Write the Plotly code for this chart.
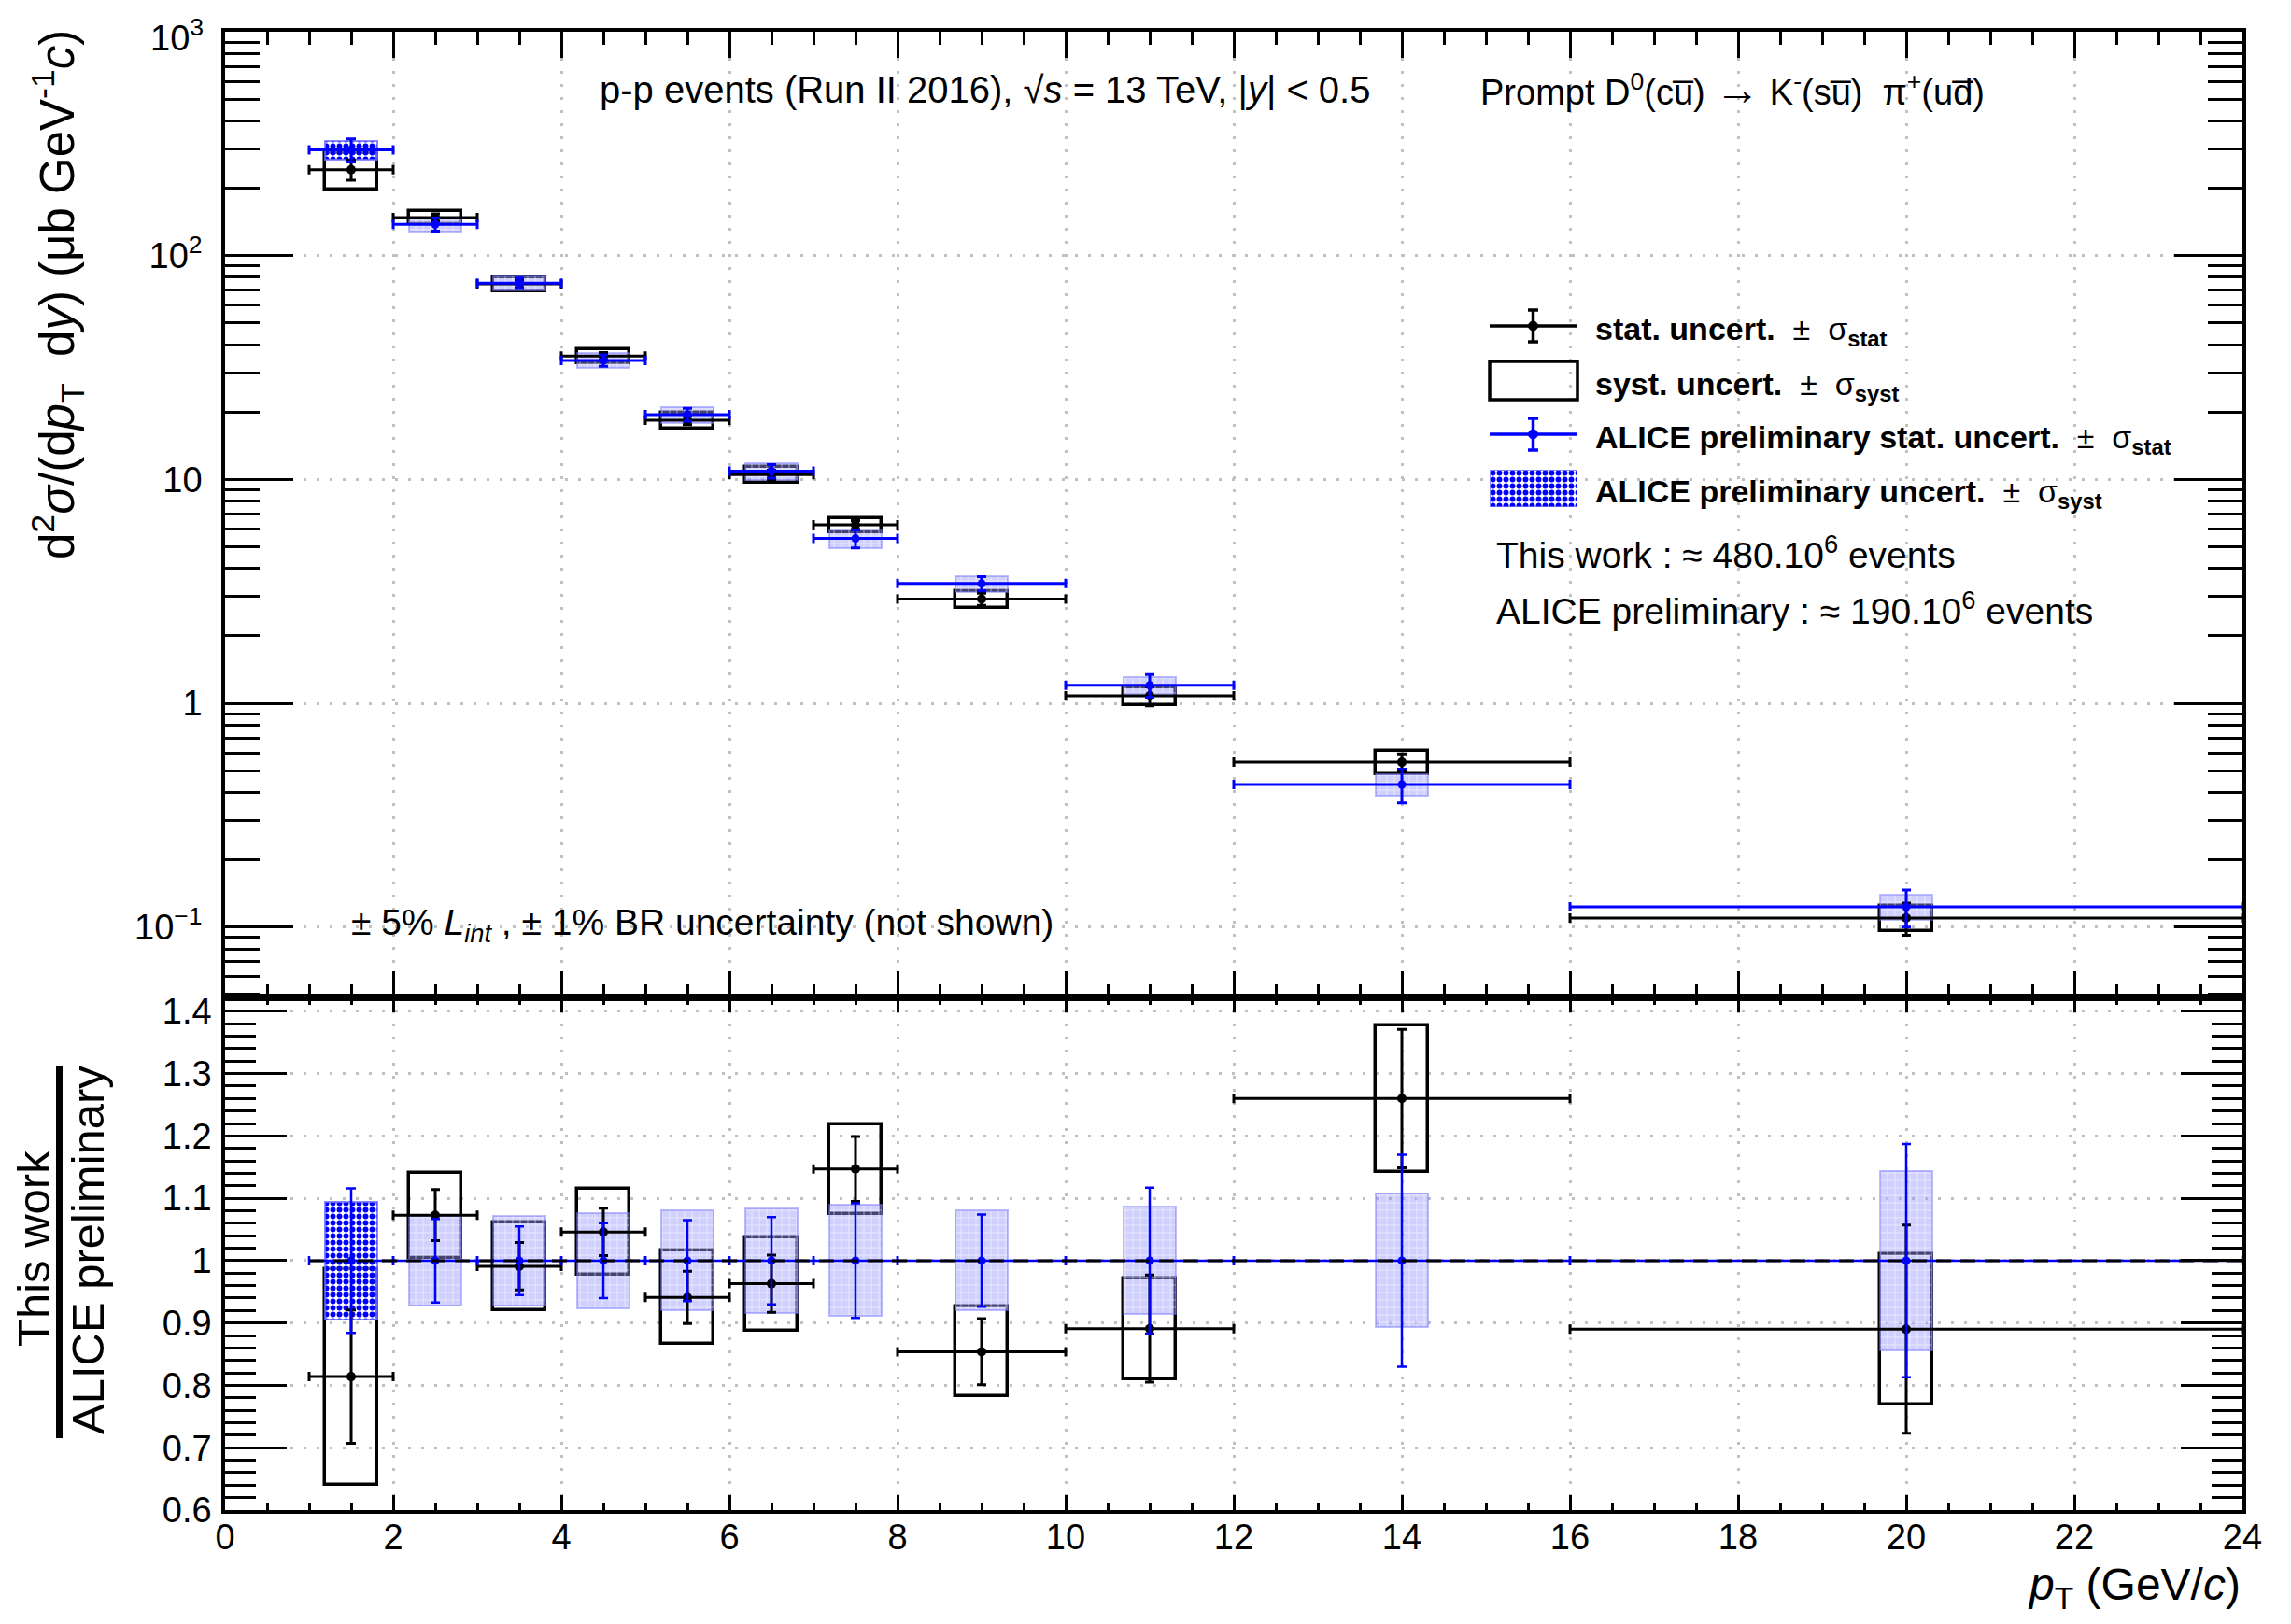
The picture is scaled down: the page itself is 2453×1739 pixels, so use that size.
import plotly.graph_objects as go

# ---------------- data ----------------
pt_edges = [1, 2, 3, 4, 5, 6, 7, 8, 10, 12, 16, 24]

# This work: d2sigma/(dpT dy) (ub GeV^-1 c)
tw_val  = [242.0, 148.0, 74.7, 35.6, 18.4, 10.5, 6.27, 2.92, 1.08, 0.546, 0.110]
tw_stat = [25.0, 5.6, 2.9, 1.3, 0.82, 0.50, 0.28, 0.18, 0.105, 0.048, 0.018]
tw_syst = [44.0, 10.0, 5.5, 2.4, 1.5, 0.85, 0.45, 0.25, 0.10, 0.065, 0.0143]

# ALICE preliminary
al_val  = [297.0, 138.0, 75.4, 34.0, 19.5, 10.9, 5.45, 3.43, 1.205, 0.434, 0.1233]
al_stat = [35.0, 9.2, 4.1, 2.0, 1.27, 0.76, 0.50, 0.25, 0.14, 0.075, 0.0233]
al_syst = [29.0, 9.9, 5.4, 2.6, 1.56, 0.92, 0.50, 0.28, 0.105, 0.047, 0.016]

# Ratio This work / ALICE preliminary
ratio_val  = [0.814, 1.073, 0.991, 1.046, 0.941, 0.963, 1.147, 0.854, 0.891, 1.260, 0.890]
ratio_stat = [0.107, 0.041, 0.038, 0.038, 0.042, 0.046, 0.052, 0.053, 0.086, 0.111, 0.167]
ratio_syst = [0.173, 0.068, 0.070, 0.069, 0.075, 0.075, 0.072, 0.072, 0.081, 0.118, 0.121]
al_rel_stat = [0.116, 0.067, 0.055, 0.060, 0.065, 0.070, 0.092, 0.074, 0.117, 0.170, 0.187]
al_rel_syst = [0.094, 0.072, 0.072, 0.076, 0.080, 0.084, 0.089, 0.080, 0.086, 0.107, 0.144]

top_tickvals = [0.1, 1, 10, 100, 1000]
top_ticktext = ["10<sup>\u22121</sup>", "1", "10", "10<sup>2</sup>", "10<sup>3</sup>"]

# ---------------- geometry helpers ----------------
OFF = 8                      # default page margin of the html body
W, H = 2453 - 2 * OFF, 1739 - 2 * OFF
PL, PR, PT, PB = 241, 2401, 34, 1617   # plot frame in screenshot pixels
PW, PH = PR - PL, PB - PT
SPLIT = 1068  # pixel row of the boundary between the two pads
dom_split = (PB - SPLIT) / PH


def px(x):
    return (x - PL) / PW


def py(y):
    return (PB - y) / PH


FONT = "Liberation Sans, Arial, Helvetica, sans-serif"
BLUE = "#0000ff"
BOX_W = 0.62

centers = [(a + b) / 2 for a, b in zip(pt_edges[:-1], pt_edges[1:])]
halfw = [(b - a) / 2 for a, b in zip(pt_edges[:-1], pt_edges[1:])]

light_marker = dict(
    color="rgba(150,150,255,0.45)",
    line=dict(color="rgba(120,120,255,0.5)", width=2),
    pattern=dict(shape="+", fgcolor="white", fgopacity=0.55,
                 bgcolor="rgba(150,150,255,0.45)", size=8, solidity=0.22,
                 fillmode="overlay"),
)
dense_marker = dict(
    color="rgba(255,255,255,0.5)",
    line=dict(color="rgba(110,110,255,0.8)", width=2),
    pattern=dict(shape=".", fgcolor=BLUE, fgopacity=1.0, bgcolor="rgba(255,255,255,0.5)",
                 size=7, solidity=0.55, fillmode="overlay"),
)
black_box_marker = dict(color="rgba(0,0,0,0)", line=dict(color="black", width=3.5))

fig = go.Figure()


def add_panel(xa, ya, tw_v, tw_st, tw_sy, al_v, al_st, al_sy, ratio=False):
    # this work syst boxes
    fig.add_trace(go.Bar(
        x=centers, base=[v - e for v, e in zip(tw_v, tw_sy)], y=[2 * e for e in tw_sy],
        width=BOX_W, marker=black_box_marker, xaxis=xa, yaxis=ya, hoverinfo="skip"))
    # ALICE syst boxes: first bin dense pattern, others light
    fig.add_trace(go.Bar(
        x=centers[1:], base=[v - e for v, e in zip(al_v[1:], al_sy[1:])],
        y=[2 * e for e in al_sy[1:]], width=BOX_W, marker=light_marker,
        xaxis=xa, yaxis=ya, hoverinfo="skip"))
    fig.add_trace(go.Bar(
        x=centers[:1], base=[al_v[0] - al_sy[0]], y=[2 * al_sy[0]], width=BOX_W,
        marker=dense_marker, xaxis=xa, yaxis=ya, hoverinfo="skip"))
    # this work stat
    fig.add_trace(go.Scatter(
        x=centers, y=tw_v, mode="markers", xaxis=xa, yaxis=ya,
        marker=dict(color="black", size=10),
        error_x=dict(type="data", array=halfw, color="black", thickness=3, width=5),
        error_y=dict(type="data", array=tw_st, color="black", thickness=3, width=5)))
    # ALICE stat
    th = 2.5 if ratio else 3
    fig.add_trace(go.Scatter(
        x=centers, y=al_v, mode="markers", xaxis=xa, yaxis=ya,
        marker=dict(color=BLUE, size=9),
        error_x=dict(type="data", array=halfw, color=BLUE, thickness=th, width=5),
        error_y=dict(type="data", array=al_st, color=BLUE, thickness=th, width=5)))


add_panel("x", "y", tw_val, tw_stat, tw_syst, al_val, al_stat, al_syst)

al_ratio = [a / a for a in al_val]
add_panel("x2", "y2", ratio_val, ratio_stat, ratio_syst, al_ratio, al_rel_stat, al_rel_syst, ratio=True)

# unity reference line in ratio pad
fig.add_trace(go.Scatter(
    x=[pt_edges[0], pt_edges[-1]], y=[al_ratio[0], al_ratio[0]], mode="lines",
    line=dict(color="black", width=3, dash="16px,10px"), xaxis="x2", yaxis="y2",
    hoverinfo="skip"))

# legend key (dense hatched box) drawn on a hidden helper axis
fig.add_trace(go.Bar(x=[0.5], y=[1], width=1, marker=dense_marker,
                     xaxis="x3", yaxis="y3", hoverinfo="skip"))

# ---------------- axes ----------------
grid = dict(showgrid=True, gridcolor="#c0c0c0", gridwidth=2.5, griddash="3px,11px")
axline = dict(showline=True, linecolor="black", linewidth=3.5, mirror="ticks",
              ticks="inside", tickcolor="black", zeroline=False)

minor_log = [k * 10.0 ** e for e in range(-2, 3) for k in range(2, 10)]

fig.update_layout(
    width=W, height=H,
    margin=dict(l=PL - OFF, r=W - (PR - OFF), t=PT - OFF, b=H - (PB - OFF), pad=0),
    paper_bgcolor="white", plot_bgcolor="white",
    showlegend=False, barmode="overlay", bargap=0,
    font=dict(family=FONT, color="black", size=37),
    xaxis=dict(domain=[0, 1], anchor="y", range=[0, 24], tick0=0, dtick=2,
               ticklen=28, tickwidth=2.5, showticklabels=False, automargin=False,
               minor=dict(dtick=0.5, tick0=0, ticklen=14, tickwidth=2.5, ticks="inside",
                          tickcolor="black", showgrid=False),
               **grid, **axline),
    yaxis=dict(domain=[dom_split, 1], anchor="x", type="log", range=[-1.3137, 3.0003],
               tickmode="array", tickvals=top_tickvals, ticktext=top_ticktext,
               ticklen=73, tickwidth=2.5, ticklabelstandoff=13, automargin=False,
               tickfont=dict(size=38, family=FONT),
               minor=dict(tickmode="array", tickvals=minor_log, ticklen=37, tickwidth=2.5,
                          ticks="inside", tickcolor="black", showgrid=False),
               **grid, **axline),
    xaxis2=dict(domain=[0, 1], anchor="y2", range=[0, 24], tick0=0, dtick=2,
                ticklen=16, tickwidth=2.5, showticklabels=True, ticklabelstandoff=-7,
                tickfont=dict(size=38, family=FONT), automargin=False,
                minor=dict(dtick=0.5, tick0=0, ticklen=8, tickwidth=2.5, ticks="inside",
                           tickcolor="black", showgrid=False),
                **grid, **axline),
    yaxis2=dict(domain=[0, dom_split], anchor="x2", range=[0.6, 1.4222], tick0=0.6, dtick=0.1,
                ticklen=66, tickwidth=2.5, ticklabelstandoff=3, automargin=False,
                tickfont=dict(size=38, family=FONT),
                minor=dict(dtick=0.02, tick0=0.6, ticklen=33, tickwidth=2.5, ticks="inside",
                           tickcolor="black", showgrid=False),
                **grid, **axline),
    xaxis3=dict(domain=[px(1595), px(1689)], anchor="y3", range=[0, 1], visible=False,
                fixedrange=True),
    yaxis3=dict(domain=[py(543), py(503)], anchor="x3", range=[0, 1], visible=False,
                fixedrange=True),
)

# ---------------- annotations ----------------
ann = []


def text(t, x, y, size=39, xanchor="left", angle=0, yanchor="middle"):
    ann.append(dict(text=t, x=px(x), y=py(y), xref="paper", yref="paper",
                    xanchor=xanchor, yanchor=yanchor, showarrow=False, textangle=angle,
                    font=dict(family=FONT, size=size, color="black")))


# top-most decade label (plotly hides a label sitting on the page edge)
text(top_ticktext[-1], 220, 38, size=38, xanchor="right")

text("p-p events (Run II 2016), \u221a<i>s</i> = 13 TeV, |<i>y</i>| < 0.5", 640, 96, size=40)
text("Prompt D<sup>0</sup>(cu\u0305) <span style='font-size:48px'>\u2192</span> "
     "K<sup>-</sup>(su\u0305)  \u03c0<sup>+</sup>(ud\u0305)",
     1583, 96, size=38)

leg_rows = [349, 407, 465, 522]
leg_txt = [
    "<b>stat. uncert.</b>  \u00b1  \u03c3<sub><b>stat</b></sub>",
    "<b>syst. uncert.</b>  \u00b1  \u03c3<sub><b>syst</b></sub>",
    "<b>ALICE preliminary stat. uncert.</b>  \u00b1  \u03c3<sub><b>stat</b></sub>",
    "<b>ALICE preliminary uncert.</b>  \u00b1  \u03c3<sub><b>syst</b></sub>",
]
for r, t in zip(leg_rows, leg_txt):
    text(t, 1706, r + 6, size=34)

text("This work : \u2248 480.10<sup>6</sup> events", 1600, 592, size=39)
text("ALICE preliminary : \u2248 190.10<sup>6</sup> events", 1600, 651, size=39)
text("\u00b1 5% <i>L</i><sub><i>int</i></sub> , \u00b1 1% BR uncertainty (not shown)", 374, 990, size=39)

text("d<sup>2</sup><i>\u03c3</i>/(d<i>p</i><sub>T</sub>  d<i>y</i>) (\u03bcb GeV<sup>-1</sup><i>c</i>)",
     62, 316, size=51, xanchor="center", angle=-90)
text("This work", 36, 1337, size=49, xanchor="center", angle=-90)
text("ALICE preliminary", 94, 1339, size=49, xanchor="center", angle=-90)
text("<i>p</i><sub>T</sub> (GeV/<i>c</i>)", 2401, 1700, size=48, xanchor="right")

# ---------------- shapes (legend keys, fraction bar) ----------------
shapes = []


def line(x0, y0, x1, y1, color="black", width=3):
    shapes.append(dict(type="line", xref="paper", yref="paper", x0=px(x0), y0=py(y0),
                       x1=px(x1), y1=py(y1), line=dict(color=color, width=width)))


# fraction bar of the ratio title
line(63.5, 1141, 63.5, 1540, width=7)

for row, col in ((leg_rows[0], "black"), (leg_rows[2], BLUE)):
    line(1595, row, 1688, row, col, 3.5)
    line(1641.5, row - 17, 1641.5, row + 17, col, 3.5)
    line(1636, row - 17, 1647, row - 17, col, 3.5)
    line(1636, row + 17, 1647, row + 17, col, 3.5)
    shapes.append(dict(type="circle", xref="paper", yref="paper",
                       x0=px(1636.5), x1=px(1646.5), y0=py(row + 5), y1=py(row - 5),
                       fillcolor=col, line=dict(color=col, width=1)))

shapes.append(dict(type="rect", xref="paper", yref="paper", x0=px(1595), x1=px(1689),
                   y0=py(428), y1=py(387), line=dict(color="black", width=3.5),
                   fillcolor="rgba(0,0,0,0)"))

fig.update_layout(annotations=ann, shapes=shapes)

fig.write_html("out.html")
